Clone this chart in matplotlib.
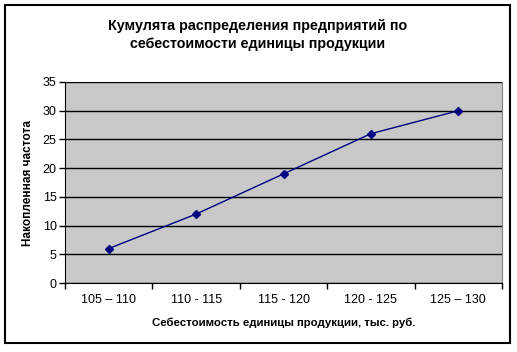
import matplotlib.pyplot as plt
from matplotlib.patches import Rectangle
import numpy as np

categories = ['105 \u2013 110', '110 - 115', '115 - 120', '120 - 125', '125 \u2013 130']
cum_freq = [6, 12, 19, 26, 30]

plt.rcParams['font.family'] = ['Liberation Sans', 'DejaVu Sans']

W, H = 517, 352
fig = plt.figure(figsize=(W / 100, H / 100), dpi=100)
fig.patch.set_facecolor('white')

# рамка диаграммы
fig.patches.append(Rectangle((5 / W, 1 - 343 / H), 505 / W, 338 / H, transform=fig.transFigure,
                             fill=False, edgecolor='black', linewidth=1.5))

ax = fig.add_axes([65 / W, 1 - 283 / H, 437 / W, 201 / H])
ax.set_facecolor('#c8c8c8')

x = np.arange(len(categories)) + 0.5
ax.plot(x, cum_freq, color='#000080', linewidth=1, marker='D', markersize=4.5, zorder=3)

ax.set_xlim(0, len(categories))
ax.set_ylim(0, 35)
ax.set_yticks(range(0, 36, 5))
ax.yaxis.grid(True, color='black', linewidth=1)
ax.set_axisbelow(True)

ax.set_xticks(range(len(categories) + 1))
ax.set_xticklabels([])
ax.set_xticks(x, minor=True)
ax.set_xticklabels(categories, minor=True)
ax.tick_params(axis='x', which='minor', length=0, pad=8, labelsize=9)
ax.tick_params(axis='x', which='major', length=4, width=1, direction='out', color='black')
ax.tick_params(axis='y', length=4, width=1, direction='out', labelsize=9, pad=2)

ax.spines['top'].set_visible(False)
ax.spines['right'].set_color('#808080')
ax.spines['left'].set_color('black')
ax.spines['bottom'].set_color('black')

ax.set_ylabel('Накопленная частота', fontsize=8.5, fontweight='bold', labelpad=6)
ax.set_xlabel('Себестоимость единицы продукции, тыс. руб.', fontsize=8.2, fontweight='bold', labelpad=8)

fig.text(258 / W, 1 - 35 / H, 'Кумулята распределения предприятий по\nсебестоимости единицы продукции',
         ha='center', va='center', fontsize=10.3, fontweight='bold', linespacing=1.3)

plt.savefig('out.png', dpi=100)
